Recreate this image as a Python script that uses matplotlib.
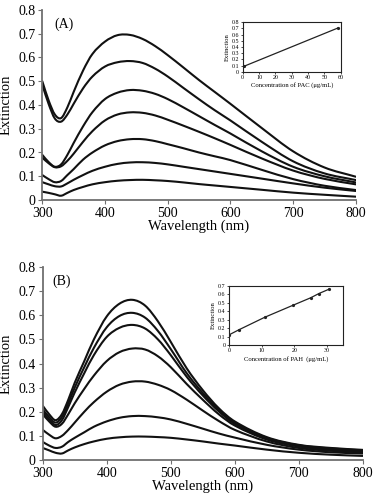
import matplotlib
matplotlib.use("Agg")
import matplotlib.pyplot as plt
from matplotlib.ticker import FuncFormatter
from matplotlib.path import Path
from matplotlib.patches import PathPatch

plt.rcParams['font.family'] = ['Liberation Serif', 'DejaVu Serif']

wavelength = [300, 310, 320, 330, 340, 350, 365, 380, 400, 420, 440, 460,
              480, 500, 525, 550, 575, 600, 650, 700, 750, 800]

spectra_A = [
    [0.50, 0.42, 0.36, 0.345, 0.39, 0.455, 0.545, 0.615, 0.667, 0.694, 0.695, 0.678,
     0.648, 0.61, 0.558, 0.505, 0.455, 0.405, 0.303, 0.205, 0.137, 0.098],
    [0.485, 0.405, 0.343, 0.33, 0.36, 0.405, 0.47, 0.52, 0.562, 0.58, 0.585, 0.577,
     0.553, 0.52, 0.472, 0.424, 0.378, 0.335, 0.245, 0.163, 0.112, 0.084],
    [0.19, 0.16, 0.14, 0.15, 0.19, 0.24, 0.31, 0.37, 0.425, 0.452, 0.463, 0.46,
     0.447, 0.425, 0.39, 0.353, 0.316, 0.28, 0.205, 0.14, 0.1, 0.074],
    [0.178, 0.155, 0.138, 0.142, 0.165, 0.195, 0.245, 0.29, 0.335, 0.36, 0.369, 0.367,
     0.356, 0.338, 0.313, 0.287, 0.26, 0.232, 0.175, 0.124, 0.089, 0.066],
    [0.105, 0.088, 0.075, 0.08, 0.105, 0.13, 0.17, 0.20, 0.23, 0.248, 0.256, 0.256,
     0.248, 0.235, 0.218, 0.20, 0.184, 0.168, 0.127, 0.088, 0.06, 0.042],
    [0.075, 0.066, 0.058, 0.057, 0.07, 0.085, 0.105, 0.123, 0.14, 0.152, 0.158, 0.159,
     0.156, 0.15, 0.14, 0.13, 0.12, 0.11, 0.09, 0.07, 0.052, 0.038],
    [0.035, 0.03, 0.024, 0.018, 0.03, 0.042, 0.055, 0.066, 0.075, 0.081, 0.084, 0.085,
     0.083, 0.08, 0.074, 0.067, 0.061, 0.055, 0.043, 0.031, 0.022, 0.014],
]

spectra_B = [
    [0.225, 0.19, 0.165, 0.19, 0.25, 0.32, 0.41, 0.50, 0.595, 0.648, 0.664, 0.64,
     0.575, 0.49, 0.38, 0.29, 0.215, 0.16, 0.095, 0.063, 0.05, 0.042],
    [0.21, 0.178, 0.155, 0.178, 0.235, 0.30, 0.385, 0.465, 0.55, 0.597, 0.61, 0.59,
     0.535, 0.46, 0.36, 0.278, 0.208, 0.155, 0.092, 0.061, 0.048, 0.04],
    [0.20, 0.168, 0.145, 0.165, 0.22, 0.28, 0.36, 0.435, 0.51, 0.548, 0.56, 0.545,
     0.50, 0.435, 0.345, 0.268, 0.202, 0.15, 0.089, 0.059, 0.046, 0.038],
    [0.19, 0.16, 0.138, 0.15, 0.19, 0.235, 0.295, 0.35, 0.41, 0.447, 0.462, 0.458,
     0.43, 0.385, 0.315, 0.25, 0.19, 0.143, 0.085, 0.056, 0.043, 0.036],
    [0.125, 0.105, 0.09, 0.10, 0.125, 0.155, 0.20, 0.24, 0.283, 0.312, 0.325, 0.325,
     0.312, 0.29, 0.25, 0.205, 0.162, 0.125, 0.077, 0.05, 0.038, 0.032],
    [0.075, 0.06, 0.05, 0.055, 0.075, 0.092, 0.115, 0.138, 0.16, 0.175, 0.182, 0.182,
     0.177, 0.168, 0.15, 0.13, 0.11, 0.093, 0.063, 0.043, 0.032, 0.027],
    [0.05, 0.04, 0.03, 0.027, 0.04, 0.052, 0.066, 0.077, 0.088, 0.094, 0.097, 0.097,
     0.095, 0.092, 0.085, 0.077, 0.068, 0.06, 0.043, 0.03, 0.022, 0.017],
]

conc_PAC = [1.0, 58.5]
ext_PAC = [0.09, 0.71]

conc_PAH = [0.0, 3.0, 11.0, 19.5, 25.0, 27.5, 30.5]
ext_PAH = [0.12, 0.18, 0.33, 0.47, 0.56, 0.61, 0.66]

main_yticks = [0, 0.1, 0.2, 0.3, 0.4, 0.5, 0.6, 0.7, 0.8]
main_xticks = [300, 400, 500, 600, 700, 800]

W, H = 376, 498
fig = plt.figure(figsize=(W / 100, H / 100), dpi=100)


def rect(x0, y0, x1, y1):
    return [x0 / W, 1 - y1 / H, (x1 - x0) / W, (y1 - y0) / H]


fmt = FuncFormatter(lambda v, p: '0' if abs(v) < 1e-9 else f'{v:.1f}')
spine_col = '#707070'


def smooth_path(xs, ys):
    # Catmull-Rom style curve through the data points, as cubic Bezier segments
    n = len(xs)
    verts = [(xs[0], ys[0])]
    codes = [Path.MOVETO]
    for i in range(n - 1):
        x0, y0 = (xs[i - 1], ys[i - 1]) if i > 0 else (xs[i], ys[i])
        x1, y1 = xs[i], ys[i]
        x2, y2 = xs[i + 1], ys[i + 1]
        x3, y3 = (xs[i + 2], ys[i + 2]) if i + 2 < n else (x2, y2)
        h = x2 - x1
        d1 = (x2 - x0) if x2 != x0 else 1
        d2 = (x3 - x1) if x3 != x1 else 1
        t1x, t1y = h, (y2 - y0) / d1 * h
        t2x, t2y = h, (y3 - y1) / d2 * h
        verts += [(x1 + t1x / 3, y1 + t1y / 3), (x2 - t2x / 3, y2 - t2y / 3), (x2, y2)]
        codes += [Path.CURVE4] * 3
    return Path(verts, codes)


def main_panel(r, spectra, tag, tagx):
    ax = fig.add_axes(r)
    for s in spectra:
        ax.add_patch(PathPatch(smooth_path(wavelength, s), fill=False,
                               edgecolor='#111111', lw=1.5, capstyle='round'))
    ax.set_xlim(300, 800)
    ax.set_ylim(0, 0.8)
    ax.set_xticks(main_xticks)
    ax.set_yticks(main_yticks)
    ax.yaxis.set_major_formatter(fmt)
    ax.spines['top'].set_visible(False)
    ax.spines['right'].set_visible(False)
    for sp in ('left', 'bottom'):
        ax.spines[sp].set_color(spine_col)
        ax.spines[sp].set_linewidth(1.3)
    ax.tick_params(direction='out', length=3, width=0.8, color=spine_col,
                   labelsize=10, pad=2)
    ax.set_xlabel('Wavelength (nm)', fontsize=10.5, labelpad=0)
    ax.set_ylabel('Extinction', fontsize=10.5, labelpad=4)
    ax.text(tagx, 0.925, tag, transform=ax.transAxes, fontsize=10, va='center')
    return ax


def inset(r, x, y, xlim, xticks, ylim, yticks, xlabel):
    ax = fig.add_axes(r)
    ax.plot(x, y, color='#222222', lw=0.9, marker='o', ms=1.3)
    ax.set_xlim(*xlim)
    ax.set_ylim(*ylim)
    ax.set_xticks(xticks)
    ax.set_yticks(yticks)
    ax.yaxis.set_major_formatter(fmt)
    for sp in ax.spines.values():
        sp.set_linewidth(0.8)
        sp.set_color('#222222')
    ax.tick_params(direction='out', length=1.5, width=0.5, labelsize=4.3, pad=1)
    ax.set_xlabel(xlabel, fontsize=4.8, labelpad=1.5)
    ax.set_ylabel('Extinction', fontsize=4.8, labelpad=1.5)
    return ax


main_panel(rect(42.3, 10, 355.8, 200), spectra_A, '(A)', 0.04)
main_panel(rect(42.7, 267, 362.7, 460), spectra_B, '(B)', 0.031)

inset(rect(242.7, 22.3, 340.7, 71.7), conc_PAC, ext_PAC, (0, 60),
      [0, 10, 20, 30, 40, 50, 60], (0, 0.8),
      [0, 0.1, 0.2, 0.3, 0.4, 0.5, 0.6, 0.7, 0.8],
      'Concentration of PAC (μg/mL)')
inset(rect(229, 286, 343.3, 345), conc_PAH, ext_PAH, (0, 35),
      [0, 10, 20, 30], (0, 0.7),
      [0, 0.1, 0.2, 0.3, 0.4, 0.5, 0.6, 0.7],
      'Concentration of PAH  (μg/mL)')

fig.savefig('out.png', dpi=100)
